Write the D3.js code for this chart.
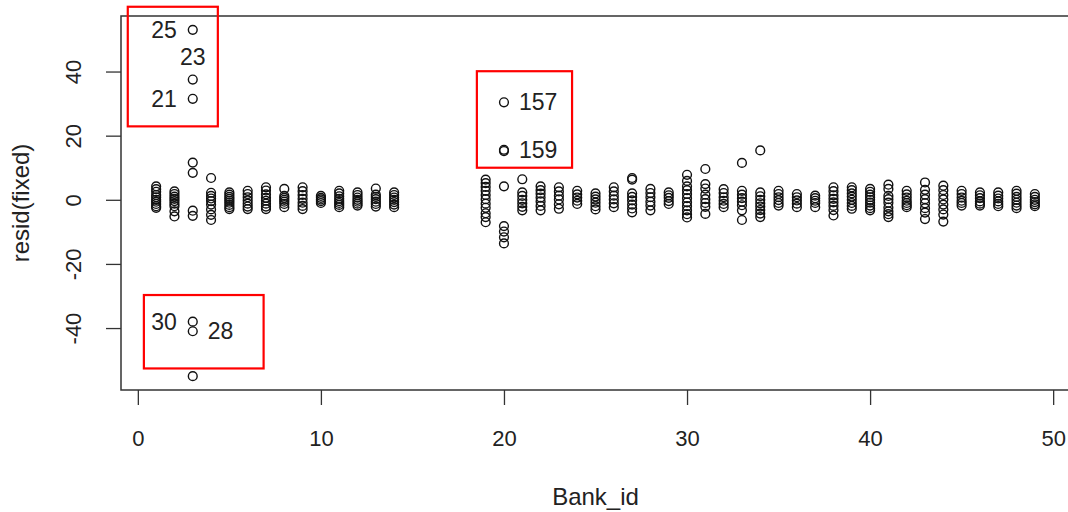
<!DOCTYPE html>
<html>
<head>
<meta charset="utf-8">
<script src="https://cdn.jsdelivr.net/npm/d3@7"></script>
<style>
  html, body { margin: 0; padding: 0; background: #fff; }
  svg { display: block; }
  text { font-family: "Liberation Sans", Arial, sans-serif; fill: #222; }
</style>
</head>
<body>
<svg id="chart" width="1068" height="512"></svg>
<script>
// Fixed-effects residuals grouped by bank
const bankIds = [1,2,3,4,5,6,7,8,9,10,11,12,13,14,19,20,21,22,23,24,25,26,27,28,29,30,31,32,33,34,35,36,37,38,39,40,41,42,43,44,45,46,47,48,49];
const residByBank = [
  [4.2, 3.3, 2.5, 1.5, 0.8, 0, -0.6, -1.3, -2, -2.5],
  [2.6, 1.8, 1.0, 0.3, -0.4, -1.2, -2.0, -3.6, -5.2],
  [53, 37.5, 31.5, 11.6, 8.4, -3.4, -5.0, -38, -41, -55],
  [6.8, 2.2, 1.2, 0.4, -0.4, -1.5, -3.0, -4.7, -6.3],
  [2.3, 1.6, 0.9, 0.3, -0.3, -0.9, -1.6, -2.3, -2.9],
  [2.8, 1.8, 0.8, -0.2, -1.2, -2.1, -2.9],
  [3.9, 2.9, 1.7, 0.6, -0.3, -1.2, -2.1, -2.9],
  [3.4, 1.2, 0.6, 0, -0.6, -1.3, -2.3],
  [3.9, 2.7, 1.5, 0.3, -0.9, -1.9, -2.9],
  [1.2, 0.6, 0.1, -0.4, -1.0],
  [2.8, 2.0, 1.1, 0.3, -0.4, -1.0, -1.6, -2.3],
  [2.3, 1.5, 0.7, 0, -0.6, -1.2, -1.8],
  [3.5, 1.6, 0.9, 0.2, -0.6, -1.3, -2.1],
  [2.3, 1.5, 0.7, 0, -0.7, -1.5, -2.3],
  [6.3, 5.2, 4.0, 2.8, 1.5, 0.2, -1.2, -2.5, -4.2, -5.4, -7.0],
  [30.4, 15.6, 15.2, 4.2, -8.2, -9.9, -11.7, -13.6],
  [6.4, 2.3, 1.2, 0, -1.1, -2.2, -3.3],
  [4.2, 3.0, 1.9, 0.7, -0.5, -1.9, -3.3],
  [3.9, 2.6, 1.3, 0.1, -1.4, -2.8],
  [2.8, 1.7, 0.7, -0.3, -1.3],
  [2.0, 1.0, 0.1, -0.9, -2.0, -3.0],
  [3.9, 2.6, 1.3, 0.1, -1.1, -2.3],
  [6.8, 6.3, 2.0, 0.9, -0.2, -1.5, -2.7, -3.9],
  [3.4, 2.1, 0.8, -0.6, -1.8, -3.3],
  [2.3, 1.4, 0.6, -0.4, -1.3],
  [7.8, 5.9, 4.2, 3.0, 1.8, 0.5, -0.8, -2.0, -3.3, -4.5, -5.5],
  [9.6, 4.9, 3.5, 1.6, 0.2, -1.0, -2.2, -4.4],
  [3.3, 2.1, 0.8, -0.3, -1.3, -2.3],
  [11.5, 2.8, 1.6, 0.5, -0.6, -1.7, -3.3, -6.3],
  [15.4, 2.3, 1.1, 0, -1.1, -2.1, -3.2, -4.3, -5.4],
  [2.8, 1.8, 0.8, -0.1, -1.0, -1.8],
  [1.8, 0.8, -0.2, -1.2, -2.3],
  [1.3, 0.5, -0.3, -1.0, -2.3],
  [3.9, 2.7, 1.4, 0.3, -0.8, -1.9, -3.2, -4.9],
  [3.9, 3.0, 2.0, 1.0, 0, -1.0, -1.9, -2.8],
  [3.4, 2.5, 1.6, 0.8, 0, -0.9, -1.8, -2.6, -3.3],
  [4.7, 3.4, 1.2, 0.2, -0.9, -2.4, -3.6, -4.5, -5.4],
  [2.8, 1.7, 0.7, -0.3, -1.0, -1.7, -2.3],
  [5.4, 3.1, 1.6, 0.2, -1.1, -2.6, -4.0, -6.0],
  [4.4, 3.0, 1.5, 0.1, -1.5, -3.0, -4.6, -6.8],
  [2.8, 1.8, 0.7, -0.3, -1.0, -1.8],
  [2.3, 1.4, 0.5, -0.5, -1.2, -1.8],
  [2.3, 1.3, 0.4, -0.5, -1.3, -2.0],
  [2.8, 1.9, 0.9, 0, -0.9, -1.8, -2.6],
  [1.8, 0.9, 0, -0.7, -1.4, -2.0]
];

const xTicks = [0, 10, 20, 30, 40, 50];
const yTicks = [-40, -20, 0, 20, 40];

// Observation numbers written next to outlying residuals
const obsLabels  = ["25", "23", "21", "30", "28", "157", "159"];
const obsBank    = [3, 3, 3, 3, 3, 20, 20];
const obsResid   = [53, 37.5, 31.5, -38, -41, 30.4, 15.4];
const obsSide    = ["left", "above", "left", "left", "right", "right", "right"];

// Highlight rectangles (bank range, residual range)
const boxBankFrom  = [-0.55, 18.52, 0.33];
const boxBankTo    = [4.37, 23.72, 6.87];
const boxResidFrom = [60.2, 40.1, -29.7];
const boxResidTo   = [22.9, 10.0, -52.6];

const points = [];
bankIds.forEach((b, i) => residByBank[i].forEach(r => points.push({ bank: b, resid: r })));

const svg = d3.select("#chart");
const plot = { left: 121, right: 1070, top: 16, bottom: 390 };

// R-style 4% padding of the data range
function padded(ext) {
  const d = (ext[1] - ext[0]) * 0.04;
  return [ext[0] - d, ext[1] + d];
}
const x = d3.scaleLinear()
  .domain(padded(d3.extent(points, d => d.bank)))
  .range([plot.left, plot.right]);
const y = d3.scaleLinear()
  .domain(padded(d3.extent(points, d => d.resid)))
  .range([plot.bottom, plot.top]);

// Points
svg.append("g")
  .selectAll("circle")
  .data(points)
  .join("circle")
  .attr("cx", d => x(d.bank))
  .attr("cy", d => y(d.resid))
  .attr("r", 4.4)
  .attr("fill", "none")
  .attr("stroke", "#111")
  .attr("stroke-width", 1.4);

// Plot frame
svg.append("rect")
  .attr("x", plot.left).attr("y", plot.top)
  .attr("width", plot.right - plot.left)
  .attr("height", plot.bottom - plot.top)
  .attr("fill", "none").attr("stroke", "#333").attr("stroke-width", 1.5);

const plainNum = d => String(d);

// X axis
const xAxis = svg.append("g")
  .attr("transform", `translate(0,${plot.bottom})`)
  .call(d3.axisBottom(x).tickValues(xTicks).tickFormat(plainNum)
    .tickSize(15).tickSizeOuter(0).tickPadding(25));
xAxis.select(".domain").remove();
xAxis.selectAll(".tick line").attr("stroke", "#333").attr("stroke-width", 1.3);
xAxis.selectAll(".tick text")
  .attr("font-size", 22).attr("fill", "#222")
  .attr("font-family", "Liberation Sans, Arial, sans-serif");

// Y axis with rotated labels
const yAxis = svg.append("g")
  .attr("transform", `translate(${plot.left},0)`)
  .call(d3.axisLeft(y).tickValues(yTicks).tickFormat(plainNum)
    .tickSize(15).tickSizeOuter(0));
yAxis.select(".domain").remove();
yAxis.selectAll(".tick line").attr("stroke", "#333").attr("stroke-width", 1.3);
yAxis.selectAll(".tick text")
  .attr("font-size", 22).attr("fill", "#222")
  .attr("font-family", "Liberation Sans, Arial, sans-serif")
  .attr("transform", "rotate(-90)")
  .attr("x", 0).attr("y", -48).attr("dy", "0.35em")
  .attr("text-anchor", "middle");

// Axis titles
svg.append("text")
  .attr("x", (plot.left + plot.right) / 2).attr("y", 505)
  .attr("text-anchor", "middle").attr("font-size", 24)
  .text("Bank_id");
svg.append("text")
  .attr("transform", `translate(29,${(plot.top + plot.bottom) / 2}) rotate(-90)`)
  .attr("text-anchor", "middle").attr("font-size", 24)
  .text("resid(fixed)");

// Observation labels
const labelG = svg.append("g").attr("font-size", 23);
obsLabels.forEach((lab, i) => {
  const px = x(obsBank[i]), py = y(obsResid[i]);
  const t = labelG.append("text").text(lab).attr("dy", "0.35em");
  if (obsSide[i] === "left") {
    t.attr("x", px - 16).attr("y", py).attr("text-anchor", "end");
  } else if (obsSide[i] === "right") {
    t.attr("x", px + 15).attr("y", py).attr("text-anchor", "start");
  } else {
    t.attr("x", px).attr("y", py - 23).attr("text-anchor", "middle");
  }
});

// Red highlight boxes
svg.append("g")
  .selectAll("rect")
  .data(boxBankFrom.map((b, i) => i))
  .join("rect")
  .attr("x", i => x(boxBankFrom[i]))
  .attr("y", i => y(boxResidFrom[i]))
  .attr("width", i => x(boxBankTo[i]) - x(boxBankFrom[i]))
  .attr("height", i => y(boxResidTo[i]) - y(boxResidFrom[i]))
  .attr("fill", "none")
  .attr("stroke", "#ff0000")
  .attr("stroke-width", 2.2);
</script>
</body>
</html>
